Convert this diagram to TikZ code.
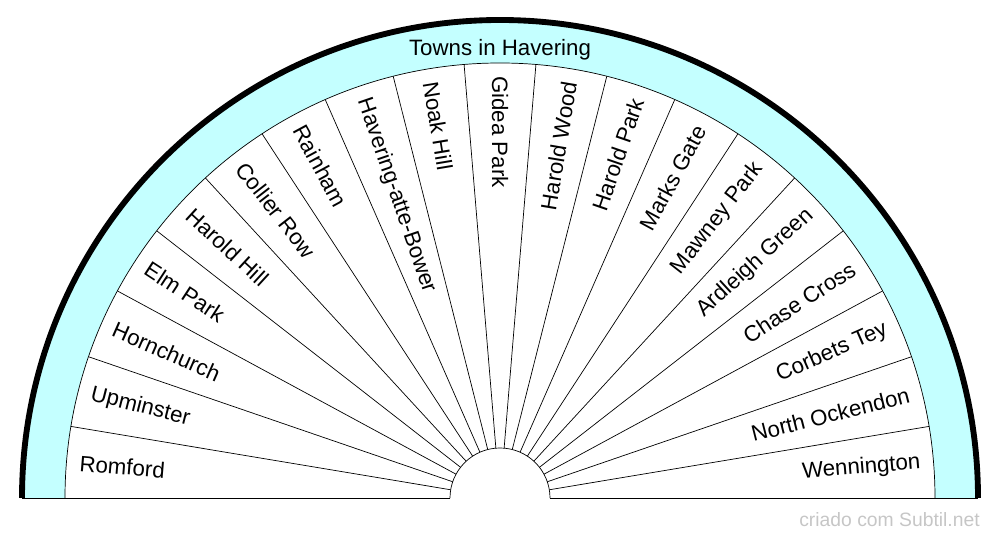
\documentclass[tikz,border=0pt]{standalone}
\usepackage{fontspec}
\setmainfont{Liberation Sans}
\usetikzlibrary{calc}
\definecolor{bandcyan}{HTML}{C4FFFF}
\tikzset{
  townlabel/.style={font=\fontsize{19}{19}\selectfont, inner sep=0pt},
  spoke/.style={line width=0.6pt, black}
}
\begin{document}
\begin{tikzpicture}[x=0.03cm, y=0.03cm]
\useasboundingbox (0,0) rectangle (1000,540);

\coordinate (c) at (500,42);

% band and rim
\fill[bandcyan] ([xshift=-478*0.03cm]c) arc[start angle=180, end angle=0, radius=478]
  -- ([xshift=435*0.03cm]c) arc[start angle=0, end angle=180, radius=435] -- cycle;
\draw[line width=0.6pt] ($(c)+(-435,0)$) arc[start angle=180, end angle=0, radius=435];
\draw[line width=0.6pt] ($(c)+(-50,0)$) arc[start angle=180, end angle=0, radius=50];
\draw[line width=5pt] ($(c)+(-478,0)$) arc[start angle=180, end angle=0, radius=478];
\draw[line width=0.6pt] ($(c)+(-478,0)$) -- ($(c)+(-50,0)$);
\draw[line width=0.6pt] ($(c)+(50,0)$) -- ($(c)+(478,0)$);

% spokes
\foreach \k in {1,...,18}
  \draw[spoke] ($(c)+({180-\k*180/19}:50)$) -- ($(c)+({180-\k*180/19}:435)$);

\node[townlabel] (title) at ($(c)+(0,448)$) {Towns in Havering};

% towns
\foreach \name [count=\k from 0] in {Romford, Upminster, Hornchurch, Elm Park,
    Harold Hill, Collier Row, Rainham, Havering-atte-Bower, Noak Hill, Gidea Park,
    Harold Wood, Harold Park, Marks Gate, Mawney Park, Ardleigh Green,
    Chase Cross, Corbets Tey, North Ockendon, Wennington}{
  \pgfmathsetmacro{\ang}{180-(\k+0.5)*180/19}
  \ifdim\ang pt<89pt
    \node[townlabel, anchor=east, rotate=\ang] (t\k) at ($(c)+(\ang:422)$) {\name};
  \else
    \node[townlabel, anchor=west, rotate=\ang-180] (t\k) at ($(c)+(\ang:422)$) {\name};
  \fi
}

\node[font=\fontsize{16.5}{16.5}\selectfont, text=gray!45, anchor=east, inner sep=0pt]
  (credit) at (980,20) {criado com Subtil.net};
\end{tikzpicture}
\end{document}
